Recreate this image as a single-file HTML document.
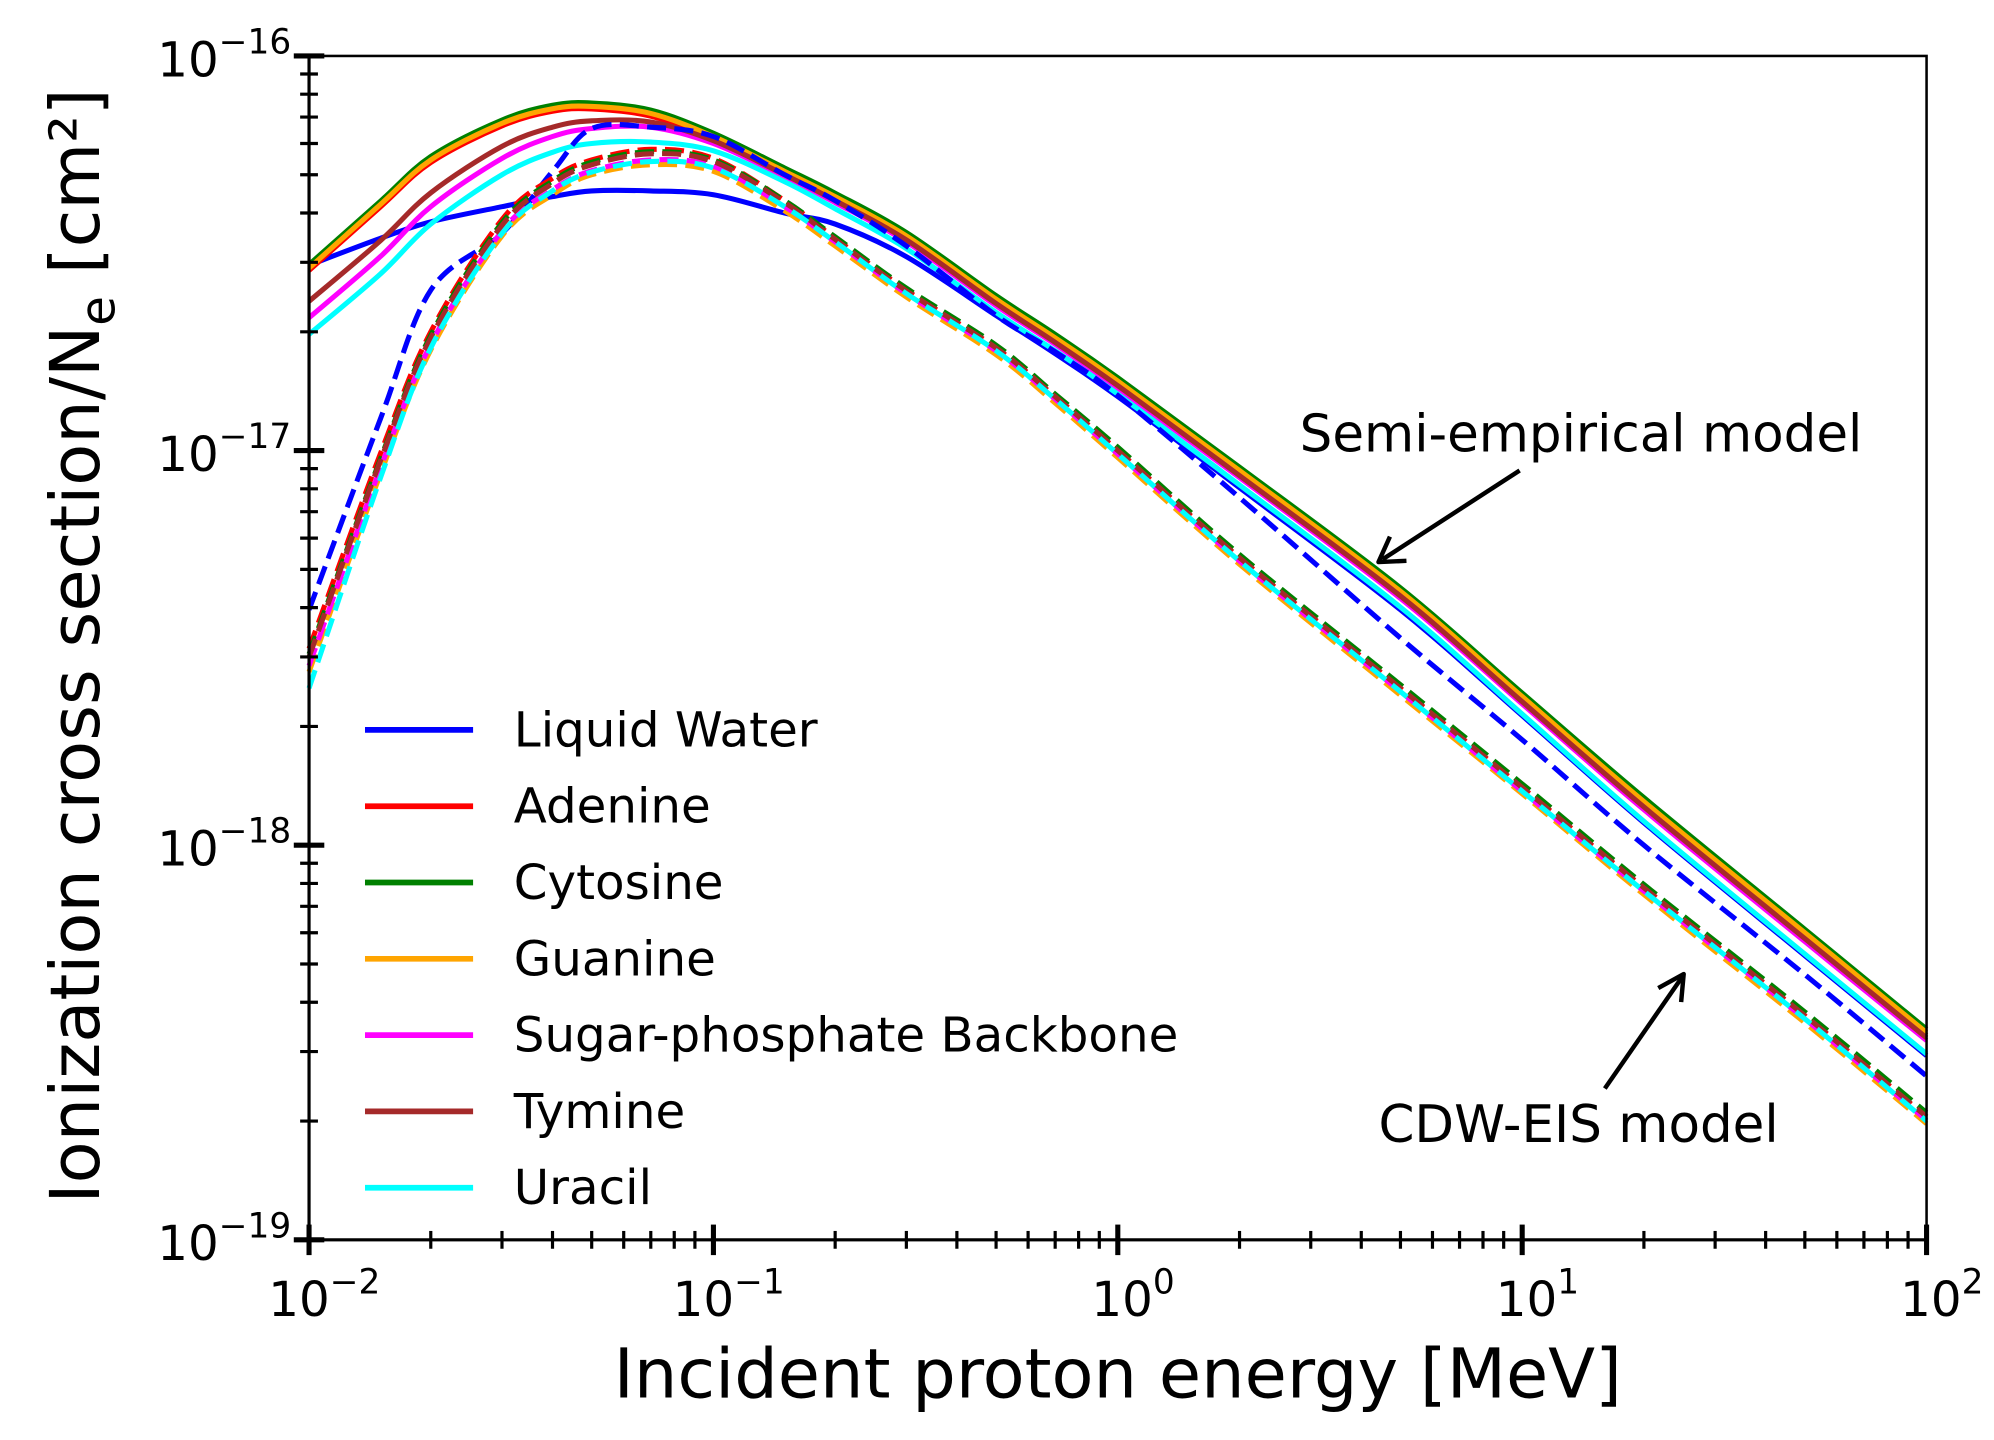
<!DOCTYPE html>
<html><head><meta charset="utf-8"><style>
html,body{margin:0;padding:0;background:#fff;}
svg{display:block;font-family:"DejaVu Sans","Liberation Sans",sans-serif;}
</style></head><body>
<svg id="chart" width="1994" height="1440" viewBox="0 0 1568 1132.4" xmlns="http://www.w3.org/2000/svg">
<g id="series"></g>
<g id="axes"></g>
<g>
<text x="1022" y="355" font-size="40.5">Semi-empirical model</text>
<line x1="1195" y1="370" x2="1087" y2="440" stroke="#000" stroke-width="3.5"/>
<polyline points="1093,422 1084,442 1106,441" fill="none" stroke="#000" stroke-width="3.5" stroke-linejoin="round"/>
</g>
<g>
<text x="1084" y="898" font-size="40.5">CDW-EIS model</text>
<line x1="1262" y1="856" x2="1323" y2="768" stroke="#000" stroke-width="3.5"/>
<polyline points="1304,777 1324,766 1322,788" fill="none" stroke="#000" stroke-width="3.5" stroke-linejoin="round"/>
</g>
<text transform="translate(78,508) rotate(-90)" text-anchor="middle" font-size="54">Ionization cross section/N<tspan font-size="38" dy="12">e</tspan><tspan dy="-12"> [cm²]</tspan></text>
<text x="879" y="1099" text-anchor="middle" font-size="54">Incident proton energy [MeV]</text>
<g id="legend"></g>
</svg>
<script>
const energies=[0.01,0.015,0.02,0.03,0.04,0.05,0.07,0.1,0.15,0.2,0.3,0.5,0.7,1,2,5,10,20,50,100];
const seriesNames=["Liquid Water","Adenine","Cytosine","Guanine","Sugar-phosphate Backbone","Tymine","Uracil"];
const seriesColors=["#0000ff","#ff0000","#008000","#ffa500","#ff00ff","#a52a2a","#00ffff"];
const semiWater=[2.95e-17,3.45e-17,3.8e-17,4.15e-17,4.4e-17,4.55e-17,4.55e-17,4.45e-17,4.0e-17,3.75e-17,3.1e-17,2.2e-17,1.76e-17,1.37e-17,8.05e-18,3.95e-18,2.13e-18,1.14e-18,5.25e-19,2.93e-19];
const semiAdenine=[2.86e-17,4.14e-17,5.37e-17,6.65e-17,7.24e-17,7.34e-17,7.04e-17,6.16e-17,5.02e-17,4.33e-17,3.45e-17,2.38e-17,1.9e-17,1.48e-17,8.77e-18,4.34e-18,2.34e-18,1.27e-18,5.9e-19,3.3e-19];
const semiCytosine=[2.96e-17,4.28e-17,5.56e-17,6.88e-17,7.5e-17,7.6e-17,7.29e-17,6.37e-17,5.2e-17,4.49e-17,3.57e-17,2.47e-17,1.97e-17,1.53e-17,9.08e-18,4.49e-18,2.43e-18,1.32e-18,6.12e-19,3.42e-19];
const semiGuanine=[2.9e-17,4.2e-17,5.45e-17,6.75e-17,7.35e-17,7.45e-17,7.15e-17,6.25e-17,5.1e-17,4.4e-17,3.5e-17,2.42e-17,1.93e-17,1.5e-17,8.9e-18,4.4e-18,2.38e-18,1.29e-18,6.0e-19,3.35e-19];
const semiSugar=[2.17e-17,3.1e-17,4.15e-17,5.5e-17,6.25e-17,6.55e-17,6.6e-17,6.0e-17,4.95e-17,4.25e-17,3.38e-17,2.33e-17,1.86e-17,1.44e-17,8.54e-18,4.22e-18,2.28e-18,1.23e-18,5.7e-19,3.2e-19];
const semiTymine=[2.39e-17,3.4e-17,4.5e-17,5.9e-17,6.6e-17,6.85e-17,6.8e-17,6.1e-17,5.0e-17,4.3e-17,3.42e-17,2.36e-17,1.88e-17,1.46e-17,8.64e-18,4.28e-18,2.31e-18,1.25e-18,5.8e-19,3.25e-19];
const semiUracil=[1.97e-17,2.8e-17,3.75e-17,5.0e-17,5.7e-17,6.0e-17,6.05e-17,5.75e-17,4.8e-17,4.1e-17,3.25e-17,2.24e-17,1.79e-17,1.39e-17,8.18e-18,4.01e-18,2.15e-18,1.15e-18,5.3e-19,2.96e-19];
const cdwWater=[3.95e-18,1.2e-17,2.55e-17,3.55e-17,5.1e-17,6.55e-17,6.6e-17,6.25e-17,5.0e-17,4.3e-17,3.3e-17,2.2e-17,1.78e-17,1.38e-17,7.6e-18,3.35e-18,1.85e-18,1.0e-18,4.7e-19,2.6e-19];
const cdwAdenine=[3.15e-18,9.8e-18,2.0e-17,3.85e-17,4.9e-17,5.45e-17,5.8e-17,5.5e-17,4.3e-17,3.45e-17,2.55e-17,1.82e-17,1.37e-17,1.0e-17,5.35e-18,2.5e-18,1.4e-18,7.8e-19,3.7e-19,2.05e-19];
const cdwCytosine=[3.05e-18,9.5e-18,1.96e-17,3.78e-17,4.82e-17,5.38e-17,5.72e-17,5.45e-17,4.3e-17,3.48e-17,2.58e-17,1.85e-17,1.39e-17,1.02e-17,5.45e-18,2.55e-18,1.43e-18,7.95e-19,3.78e-19,2.1e-19];
const cdwGuanine=[2.75e-18,8.7e-18,1.8e-17,3.5e-17,4.45e-17,5.0e-17,5.3e-17,5.1e-17,4.05e-17,3.3e-17,2.45e-17,1.75e-17,1.32e-17,9.6e-18,5.15e-18,2.4e-18,1.35e-18,7.5e-19,3.55e-19,1.97e-19];
const cdwSugar=[2.85e-18,9.0e-18,1.86e-17,3.6e-17,4.58e-17,5.12e-17,5.45e-17,5.25e-17,4.15e-17,3.38e-17,2.5e-17,1.79e-17,1.35e-17,9.8e-18,5.25e-18,2.45e-18,1.37e-18,7.65e-19,3.63e-19,2.01e-19];
const cdwTymine=[3.0e-18,9.4e-18,1.93e-17,3.72e-17,4.75e-17,5.3e-17,5.65e-17,5.4e-17,4.25e-17,3.43e-17,2.54e-17,1.82e-17,1.37e-17,1.0e-17,5.35e-18,2.5e-18,1.4e-18,7.8e-19,3.7e-19,2.05e-19];
const cdwUracil=[2.5e-18,8.5e-18,1.82e-17,3.55e-17,4.55e-17,5.08e-17,5.4e-17,5.2e-17,4.15e-17,3.38e-17,2.5e-17,1.79e-17,1.35e-17,9.8e-18,5.25e-18,2.45e-18,1.37e-18,7.65e-19,3.63e-19,2.0e-19];
const semiSeries=[semiWater,semiAdenine,semiCytosine,semiGuanine,semiSugar,semiTymine,semiUracil];
const cdwSeries=[cdwWater,cdwAdenine,cdwCytosine,cdwGuanine,cdwSugar,cdwTymine,cdwUracil];
const xTickExps=[-2,-1,0,1,2];
const yTickExps=[-19,-18,-17,-16];
const seriesKeys=["water","adenine","cytosine","guanine","sugar-backbone","tymine","uracil"];

const NS="http://www.w3.org/2000/svg";
const X0=243,X1=1515,Y0=975,Y1=44;
const xMin=-2,xMax=2,yMin=-19,yMax=-16;
function xs(v){return X0+(Math.log10(v)-xMin)/(xMax-xMin)*(X1-X0);}
function ys(v){return Y0-(Math.log10(v)-yMin)/(yMax-yMin)*(Y0-Y1);}
function mk(tag,attrs,parent){const e=document.createElementNS(NS,tag);for(const k in attrs)e.setAttribute(k,attrs[k]);parent.appendChild(e);return e;}

const sg=document.getElementById('series');
function pathFor(arr){
  const p=arr.map((v,i)=>[xs(energies[i]),ys(v)]);
  let d='M'+p[0][0].toFixed(2)+','+p[0][1].toFixed(2);
  for(let i=0;i<p.length-1;i++){
    const p0=p[Math.max(0,i-1)],p1=p[i],p2=p[i+1],p3=p[Math.min(p.length-1,i+2)];
    const c1x=p1[0]+(p2[0]-p0[0])/6,c1y=p1[1]+(p2[1]-p0[1])/6;
    const c2x=p2[0]-(p3[0]-p1[0])/6,c2y=p2[1]-(p3[1]-p1[1])/6;
    d+=' C'+c1x.toFixed(2)+','+c1y.toFixed(2)+' '+c2x.toFixed(2)+','+c2y.toFixed(2)+' '+p2[0].toFixed(2)+','+p2[1].toFixed(2);
  }
  return d;
}
semiSeries.forEach((arr,i)=>{
  const p=mk('path',{d:pathFor(arr),fill:'none',stroke:seriesColors[i],'stroke-width':4,'stroke-linejoin':'round'},sg);
  
  
});
cdwSeries.forEach((arr,i)=>{
  const p=mk('path',{d:pathFor(arr),fill:'none',stroke:seriesColors[i],'stroke-width':4,'stroke-dasharray':'15 6.5'},sg);
  
  
});

const ax=document.getElementById('axes');
mk('rect',{x:X0,y:Y1,width:X1-X0,height:Y0-Y1,fill:'none',stroke:'#000','stroke-width':2},ax);
mk('line',{x1:X0,y1:Y0,x2:X1,y2:Y0,stroke:'#000','stroke-width':2.5},ax);
mk('line',{x1:X0,y1:Y0,x2:X0,y2:Y1,stroke:'#000','stroke-width':2.5},ax);
function sup(parent,x,y,e,anchor){
  const t=mk('text',{x:x,y:y,'font-size':38,'text-anchor':anchor},parent);
  t.textContent='10';
  const s=mk('tspan',{'font-size':27,dy:-18},t);
  s.textContent=(e<0?'\u2212':'')+Math.abs(e);
  return t;
}
xTickExps.forEach(e=>{
  const x=xs(Math.pow(10,e));
  const l=mk('line',{x1:x,y1:Y0-12,x2:x,y2:Y0+12,stroke:'#000','stroke-width':4},ax);
  
  
  const t=sup(ax,x+12,Y0+60,e,'middle');
  
  
  if(e<xMax){for(let m=2;m<=9;m++){const xm=xs(m*Math.pow(10,e));mk('line',{x1:xm,y1:Y0-7,x2:xm,y2:Y0+7,stroke:'#000','stroke-width':2.5},ax);}}
});
yTickExps.forEach(e=>{
  const y=ys(Math.pow(10,e));
  const l=mk('line',{x1:X0-12,y1:y,x2:X0+12,y2:y,stroke:'#000','stroke-width':4},ax);
  
  
  const t=sup(ax,X0-14,y+16,e,'end');
  
  
  if(e<yMax){for(let m=2;m<=9;m++){const ym=ys(m*Math.pow(10,e));mk('line',{x1:X0-7,y1:ym,x2:X0+7,y2:ym,stroke:'#000','stroke-width':2.5},ax);}}
});

const lg=document.getElementById('legend');
seriesNames.forEach((n,i)=>{
  const y=574+i*60;
  const g=mk('g',{},lg);
  
  
  mk('line',{x1:287,y1:y,x2:372,y2:y,stroke:seriesColors[i],'stroke-width':4.5},g);
  const t=mk('text',{x:404,y:y+13,'font-size':38},g);
  t.textContent=n;
});
</script>
</body></html>
